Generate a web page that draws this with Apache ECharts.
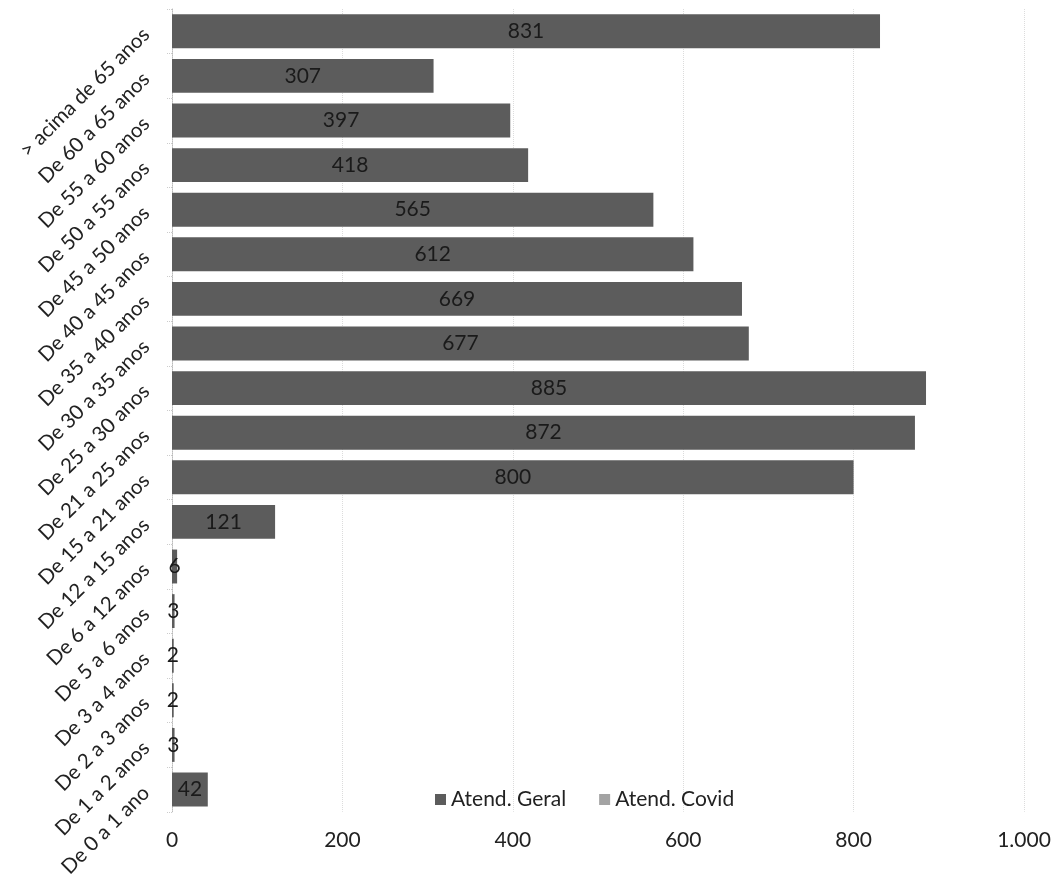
<!DOCTYPE html>
<html>
<head>
<meta charset="utf-8">
<script src="https://cdn.jsdelivr.net/npm/echarts@6/dist/echarts.min.js"></script>
<style>html,body{margin:0;padding:0;background:#fff;}#c{width:1055px;height:880px;}</style>
</head>
<body>
<div id="c"></div>
<script>
const categories = ["De 0 a 1 ano","De 1 a 2 anos","De 2 a 3 anos","De 3 a 4 anos","De 5 a 6 anos","De 6 a 12 anos","De 12 a 15 anos","De 15 a 21 anos","De 21 a 25 anos","De 25 a 30 anos","De 30 a 35 anos","De 35 a 40 anos","De 40 a 45 anos","De 45 a 50 anos","De 50 a 55 anos","De 55 a 60 anos","De 60 a 65 anos","> acima de 65 anos"];
const atendGeral = [42,3,2,2,3,6,121,800,872,885,677,669,612,565,418,397,307,831];
const atendCovid = [0,0,0,0,0,0,0,0,0,0,0,0,0,0,0,0,0,0];
const xTicks = [0,200,400,600,800,1000];

const chart = echarts.init(document.getElementById('c'));
const font = 'Lato, "Open Sans", sans-serif';
chart.setOption({
  animation: false,
  textStyle: {fontFamily: font},
  grid: {left: 172, right: 31, top: 9, bottom: 68, containLabel: false},
  legend: {
    data: ['Atend. Geral','Atend. Covid'],
    left: 430, top: 784,
    itemWidth: 11, itemHeight: 11, itemGap: 33,
    icon: 'rect',
    textStyle: {fontSize: 21, color: '#222', fontFamily: font}
  },
  xAxis: {
    type: 'value', min: 0, max: 1000, interval: 200,
    axisLine: {show: false}, axisTick: {show: false},
    splitLine: {show: true, lineStyle: {color: '#dcdcdc', type: 'dotted', width: 1}},
    axisLabel: {
      fontSize: 21, color: '#222', margin: 18,
      formatter: v => xTicks.includes(v) ? String(v).replace(/\B(?=(\d{3})+(?!\d))/g, '.') : ''
    }
  },
  yAxis: {
    type: 'category', data: categories,
    axisLine: {show: true, lineStyle: {color: '#bbb', type: 'dotted'}},
    axisTick: {show: true, length: 6, lineStyle: {color: '#ccc', type: 'dotted'}},
    axisLabel: {rotate: 45, fontSize: 20.5, color: '#222', margin: 26, interval: 0}
  },
  series: [
    {
      name: 'Atend. Geral', type: 'bar', stack: 'a', data: atendGeral,
      barCategoryGap: '24%',
      itemStyle: {color: '#5c5c5c'},
      label: {show: true, position: 'inside', fontSize: 21, color: '#1a1a1a', fontFamily: font}
    },
    {
      name: 'Atend. Covid', type: 'bar', stack: 'a', data: atendCovid,
      itemStyle: {color: '#a3a3a3'},
      label: {show: false}
    }
  ]
});
</script>
</body>
</html>
